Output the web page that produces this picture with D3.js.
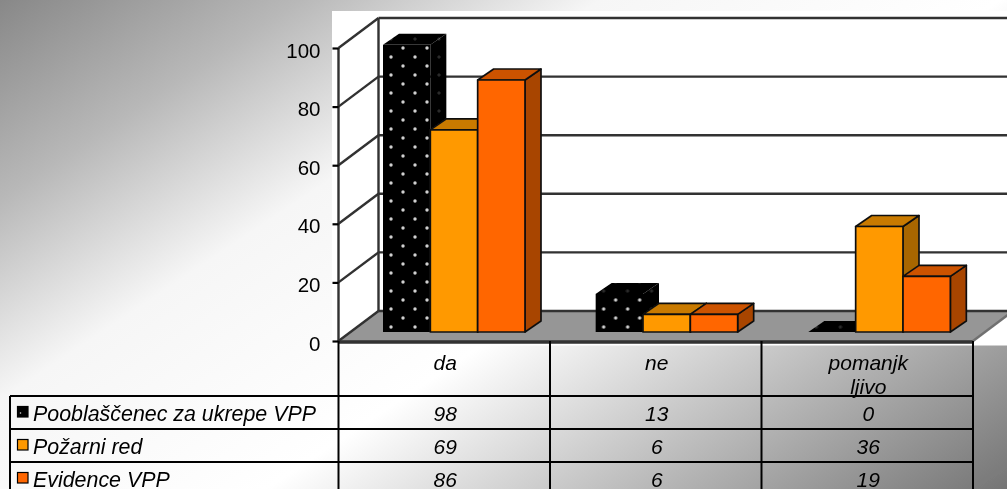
<!DOCTYPE html>
<html>
<head>
<meta charset="utf-8">
<script src="https://cdn.jsdelivr.net/npm/d3@7"></script>
<style>
  html, body { margin: 0; padding: 0; overflow: hidden; background: #fff; }
  text { font-family: "Liberation Sans", Arial, sans-serif; font-size: 21px; fill: #000; }
</style>
</head>
<body>
<div id="chart"></div>
<script>
// values
const categories = ['da', 'ne', 'pomanjk\nljivo'];
const seriesNames = ['Pooblaščenec za ukrepe VPP', 'Požarni red', 'Evidence VPP'];
const pooblascenec = [98, 13, 0];
const pozarniRed = [69, 6, 36];
const evidence = [86, 6, 19];
const yTicks = [0, 20, 40, 60, 80, 100];

const seriesValues = [pooblascenec, pozarniRed, evidence];

const width = 1007, height = 489;
const wall = { dx: 40, dy: -30 };   // depth of the chart box
const box = { dx: 16, dy: -11 };    // depth of one bar
const barLift = 9;                  // bars stand a bit behind the front edge of the floor

const svg = d3.select('#chart').append('svg')
  .attr('width', width)
  .attr('height', height)
  .style('display', 'block');

const defs = svg.append('defs');

const bg = defs.append('linearGradient')
  .attr('id', 'bg')
  .attr('gradientUnits', 'userSpaceOnUse')
  .attr('x1', 0).attr('y1', 0).attr('x2', 535).attr('y2', 803);
[[0, '#888888'], [0.172, '#b8b8b8'], [0.345, '#f6f6f6'], [0.575, '#ffffff'], [1, '#757575']].forEach(s => {
  bg.append('stop').attr('offset', s[0]).attr('stop-color', s[1]);
});

const groupX = d3.scaleBand().domain(categories).range([383, 1021]);

// dot fill starts again at every group of bars
function dots(id, color, x) {
  const p = defs.append('pattern')
    .attr('id', id)
    .attr('patternUnits', 'userSpaceOnUse')
    .attr('width', 24).attr('height', 18)
    .attr('x', x).attr('y', 26);
  p.append('rect').attr('width', 24).attr('height', 18).attr('fill', '#000');
  p.append('circle').attr('cx', 18).attr('cy', 4).attr('r', 1.7).attr('fill', color);
  p.append('circle').attr('cx', 6).attr('cy', 13).attr('r', 1.7).attr('fill', color);
}
categories.forEach((c, i) => {
  dots('dotsFront' + i, '#d0d0d0', groupX(c) + 2);
  dots('dotsDim' + i, '#2a2a2a', groupX(c) + 2);
});

const soft = defs.append('filter').attr('id', 'soft')
  .attr('x', 0).attr('y', 0).attr('width', 1).attr('height', 1);
soft.append('feGaussianBlur').attr('stdDeviation', 0.6);

const seriesStyle = [
  { top: '#000', side: '#000', key: '#000' },
  { front: '#ff9900', top: '#c97a00', side: '#a86600', key: '#ff9900' },
  { front: '#ff6600', top: '#cc5200', side: '#a84400', key: '#ff6600' }
];

const root = svg.append('g').attr('filter', 'url(#soft)');

root.append('rect').attr('width', width).attr('height', height).attr('fill', 'url(#bg)');
root.append('rect').attr('x', 332).attr('y', 11).attr('width', 675).attr('height', 334.5).attr('fill', '#fff');

const y = d3.scaleLinear().domain([0, 100]).range([341, 48]);
const cellX = d3.scaleBand().domain(categories).range([338.5, 973]);
const barX = d3.scaleBand().domain(d3.range(3)).range([0, 142]);

const poly = pts => pts.map(p => p.join(',')).join(' ');

// floor
const floorY = y(0), floorL = cellX.range()[0], floorR = cellX.range()[1];
root.append('polygon')
  .attr('points', poly([[floorL, floorY], [floorL + wall.dx, floorY + wall.dy],
    [floorR + wall.dx, floorY + wall.dy], [floorR, floorY]]))
  .attr('fill', '#969696');

// walls
const grid = root.append('g').attr('stroke', '#303030').attr('stroke-width', 2.4).attr('fill', 'none');
grid.selectAll('.hline').data(yTicks).enter().append('line')
  .attr('x1', floorL + wall.dx).attr('x2', width)
  .attr('y1', d => y(d) + wall.dy).attr('y2', d => y(d) + wall.dy);
grid.selectAll('.diag').data(yTicks).enter().append('line')
  .attr('x1', floorL).attr('x2', floorL + wall.dx)
  .attr('y1', d => y(d)).attr('y2', d => y(d) + wall.dy);
grid.append('line')
  .attr('x1', floorL + wall.dx).attr('x2', floorL + wall.dx)
  .attr('y1', y(100) + wall.dy).attr('y2', y(0) + wall.dy);
grid.append('line')
  .attr('x1', floorL).attr('x2', floorL)
  .attr('y1', y(100)).attr('y2', y(0));
grid.append('line')
  .attr('x1', floorL).attr('x2', floorR)
  .attr('y1', floorY + 1).attr('y2', floorY + 1)
  .attr('stroke-width', 3.5);
grid.append('line')
  .attr('x1', floorR).attr('x2', floorR + wall.dx)
  .attr('y1', floorY).attr('y2', floorY + wall.dy)
  .attr('stroke', '#707070');

// y axis
const axis = d3.axisLeft(y).tickValues(yTicks).tickSize(6).tickPadding(12);
const axisG = root.append('g').attr('transform', `translate(${floorL},0)`).call(axis);
axisG.select('.domain').remove();
axisG.selectAll('.tick line').attr('stroke', '#000').attr('stroke-width', 2.2);
axisG.selectAll('.tick text')
  .attr('y', 2.5)
  .style('font-size', '20.5px')
  .style('font-family', '"Liberation Sans", Arial, sans-serif')
  .attr('fill', '#000');

// bars, one box per series and category
const bars = [];
categories.forEach((c, i) => {
  seriesValues.forEach((vals, s) => bars.push({ cat: c, catIndex: i, series: s, value: vals[i] }));
});

const barG = root.selectAll('.bar').data(bars).enter().append('g').attr('class', 'bar')
  .attr('stroke', d => d.series === 0 ? 'none' : '#111')
  .attr('stroke-width', 1.7).attr('stroke-linejoin', 'round');

barG.each(function (d) {
  const g = d3.select(this);
  const x0 = groupX(d.cat) + barX(d.series);
  const x1 = x0 + barX.bandwidth();
  const yb = y(0) - barLift;
  const yt = y(d.value) - barLift;
  const st = seriesStyle[d.series];
  const dotted = d.series === 0;
  g.append('polygon')
    .attr('points', poly([[x1, yb], [x1 + box.dx, yb + box.dy], [x1 + box.dx, yt + box.dy], [x1, yt]]))
    .attr('fill', dotted ? 'url(#dotsDim' + d.catIndex + ')' : st.side);
  g.append('polygon')
    .attr('points', poly([[x0, yt], [x0 + box.dx, yt + box.dy], [x1 + box.dx, yt + box.dy], [x1, yt]]))
    .attr('fill', dotted ? 'url(#dotsDim' + d.catIndex + ')' : st.top);
  g.append('rect')
    .attr('x', x0).attr('y', yt)
    .attr('width', x1 - x0).attr('height', yb - yt)
    .attr('fill', dotted ? 'url(#dotsFront' + d.catIndex + ')' : st.front);
});

// data table under the chart
const tableLeft = 10, headerBottom = 396;
const rowY = d3.scaleBand().domain(d3.range(3)).range([headerBottom, 495]);
const lines = root.append('g').attr('stroke', '#000').attr('stroke-width', 2);

lines.selectAll('.vline').data(d3.range(4)).enter().append('line')
  .attr('x1', d => floorL + d * cellX.step()).attr('x2', d => floorL + d * cellX.step())
  .attr('y1', floorY).attr('y2', 495);
lines.append('line').attr('x1', tableLeft).attr('x2', tableLeft).attr('y1', headerBottom).attr('y2', 495);
lines.selectAll('.rline').data(d3.range(3)).enter().append('line')
  .attr('x1', tableLeft).attr('x2', floorR)
  .attr('y1', d => rowY(d)).attr('y2', d => rowY(d));

const headers = root.selectAll('.head').data(categories).enter().append('text')
  .attr('class', 'head')
  .attr('text-anchor', 'middle')
  .attr('font-style', 'italic');
headers.selectAll('tspan').data(d => d.split('\n').map(t => ({ t: t, cat: d }))).enter().append('tspan')
  .attr('x', d => cellX(d.cat) + cellX.bandwidth() / 2 + 1)
  .attr('y', (d, i) => 370 + i * 24)
  .text(d => d.t);

seriesNames.forEach((name, s) => {
  const cy = rowY(s) + rowY.bandwidth() / 2;
  root.append('rect')
    .attr('x', 17.5).attr('y', cy - 6)
    .attr('width', 10.5).attr('height', 10.5)
    .attr('fill', seriesStyle[s].key)
    .attr('stroke', '#000').attr('stroke-width', 1.2);
  if (s === 0) {
    root.append('circle').attr('cx', 20.5).attr('cy', cy + 0.5).attr('r', 0.8).attr('fill', '#ddd');
  }
  root.append('text')
    .attr('x', 33).attr('y', cy + 8)
    .attr('font-style', 'italic')
    .style('font-size', '21.4px')
    .text(name);
  root.selectAll('.val' + s).data(seriesValues[s]).enter().append('text')
    .attr('x', (d, i) => cellX(categories[i]) + cellX.bandwidth() / 2 + 1)
    .attr('y', cy + 8)
    .attr('text-anchor', 'middle')
    .attr('font-style', 'italic')
    .text(d => d);
});
</script>
</body>
</html>
